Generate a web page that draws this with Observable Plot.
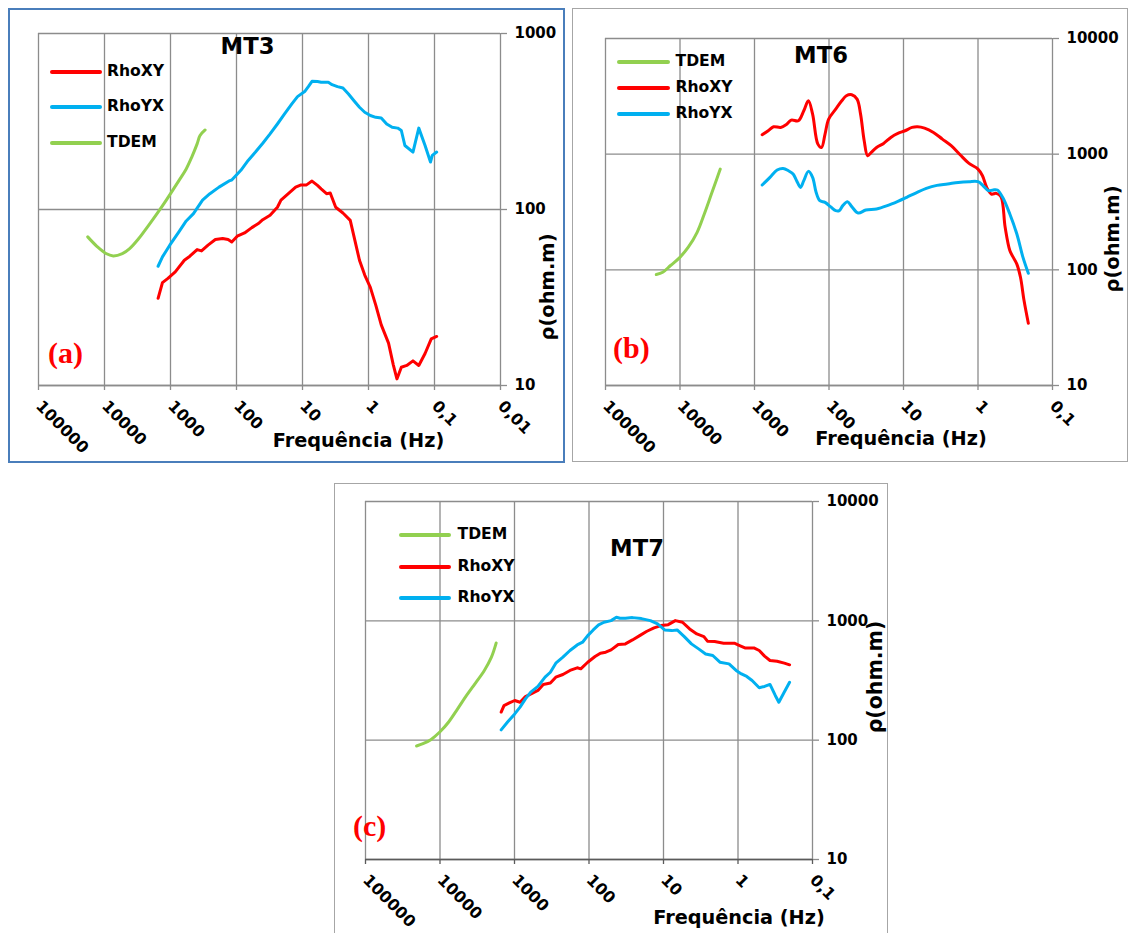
<!DOCTYPE html>
<html><head><meta charset="utf-8">
<script src="https://cdn.jsdelivr.net/npm/d3@7"></script>
<script src="https://cdn.jsdelivr.net/npm/@observablehq/plot@0.6"></script>
<style>
body{margin:0;background:#fff;}
#root{position:relative;width:1128px;height:933px;overflow:hidden;background:#fff;}
.t{position:absolute;white-space:nowrap;line-height:1;z-index:5;}
.lg{position:absolute;height:4px;border-radius:2px;z-index:5;}
.fr{position:absolute;box-sizing:border-box;z-index:4;pointer-events:none;}
</style>
</head><body><div id="root"></div>
<script>
// ---------- data (frequency in Hz, apparent resistivity in ohm.m) ----------
const xTicksMT3 = [100000, 10000, 1000, 100, 10, 1, 0.1, 0.01];
const xTicksMT67 = [100000, 10000, 1000, 100, 10, 1, 0.1];
const yTicksMT3 = [10, 100, 1000];
const yTicksMT67 = [10, 100, 1000, 10000];

const mt3TdemF = [17950, 13060, 9500, 7370, 5360, 4160, 3030, 2200, 1600, 1165, 746, 578, 478, 395, 357, 299];
const mt3TdemRho = [69.9, 61.8, 56.2, 54.5, 56.2, 60.0, 68.4, 80.3, 94.8, 112.8, 146, 170, 198, 236, 263, 283];
const mt3XyF = [1542, 1324, 1094, 847, 617, 509, 395, 339, 270, 209, 162, 134, 118, 97.5, 75.5, 58.6, 45.4, 40.0, 31.0, 24.0, 21.2, 16.4, 12.7, 10.5, 8.69, 7.18, 5.93, 5.22, 4.32, 3.80, 3.14, 2.44, 1.89, 1.37, 1.14, 0.938, 0.776, 0.641, 0.497, 0.421, 0.371, 0.318, 0.263, 0.212, 0.173, 0.139, 0.112, 0.0927];
const mt3XyRho = [31.3, 38.4, 40.6, 44.2, 51.5, 54.3, 59.2, 58.2, 62.7, 67.5, 68.4, 67.5, 65.4, 70.5, 73.6, 78.9, 83.9, 87.5, 92.7, 103, 113, 123, 134, 138, 138, 145, 137, 131, 123, 124, 103, 95.5, 86.8, 51.5, 42.4, 36.1, 28.6, 22.1, 17.4, 13.1, 10.9, 12.7, 13.0, 13.8, 13.0, 15.2, 18.4, 19.0];
const mt3YxF = [1542, 1324, 1026, 746, 578, 449, 327, 253, 184, 126, 118, 85.9, 66.6, 51.6, 40.0, 31.0, 24.0, 18.7, 14.5, 11.9, 9.27, 8.16, 7.18, 5.93, 5.22, 4.06, 3.57, 2.95, 2.44, 2.01, 1.66, 1.37, 1.14, 0.938, 0.776, 0.641, 0.530, 0.438, 0.361, 0.318, 0.281, 0.212, 0.173, 0.139, 0.115, 0.108, 0.0927];
const mt3YxRho = [47.6, 53.8, 62.7, 74.6, 86.1, 94.7, 113, 123, 134, 146, 147, 167, 190, 212, 238, 269, 306, 349, 398, 438, 468, 499, 535, 533, 528, 528, 512, 499, 490, 453, 415, 381, 357, 342, 334, 331, 306, 293, 290, 281, 231, 212, 290, 231, 186, 203, 212];

const mt6TdemF = [20800, 17060, 13400, 10190, 7740, 5890, 4720, 3790, 3210, 2880];
const mt6TdemRho = [91.0, 95.2, 109, 127, 157, 211, 304, 452, 610, 743];
const mt6XyF = [789, 655, 555, 446, 378, 321, 258, 218, 189, 166, 141, 126, 113, 101, 81.3, 67.4, 58.5, 49.5, 42.0, 37.7, 33.7, 30.3, 27.1, 23.0, 18.5, 14.8, 11.9, 9.55, 7.67, 6.50, 5.22, 3.96, 3.01, 2.29, 1.74, 1.32, 1.00, 0.871, 0.764, 0.662, 0.568, 0.492, 0.432, 0.374, 0.336, 0.301, 0.269, 0.241, 0.211];
const mt6XyRho = [1472, 1594, 1726, 1703, 1795, 1971, 1945, 2373, 2895, 2220, 1222, 1143, 1492, 2011, 2452, 2895, 3198, 3262, 2990, 2220, 1306, 969, 1036, 1143, 1239, 1396, 1511, 1594, 1703, 1726, 1680, 1542, 1350, 1183, 989, 832, 743, 651, 516, 452, 458, 429, 233, 147, 128, 112, 86.2, 54.2, 34.5];
const mt6YxF = [789, 620, 497, 413, 350, 303, 272, 241, 218, 189, 166, 149, 133, 113, 95.7, 81.3, 72.8, 65.3, 56.5, 49.5, 40.6, 32.0, 23.0, 16.5, 11.9, 9.04, 6.87, 4.94, 3.56, 2.56, 1.84, 1.32, 1.00, 0.853, 0.723, 0.627, 0.550, 0.467, 0.374, 0.301, 0.249, 0.211];
const mt6YxRho = [541, 630, 729, 753, 719, 673, 590, 516, 590, 710, 630, 468, 396, 383, 352, 325, 325, 359, 388, 352, 310, 329, 336, 359, 391, 424, 461, 506, 537, 552, 570, 578, 578, 533, 483, 490, 490, 424, 304, 204, 128, 93.3];

const mt7TdemF = [20650, 16930, 13280, 10070, 7650, 5800, 4400, 3340, 2540, 2040, 1760];
const mt7TdemRho = [89.3, 93.4, 101, 117, 142, 183, 237, 301, 384, 496, 653];
const mt7XyF = [1510, 1384, 1172, 993, 842, 713, 573, 485, 411, 330, 279, 224, 180, 144, 129, 104, 83.0, 70.3, 59.6, 50.5, 40.5, 32.5, 26.1, 20.9, 16.7, 13.4, 10.8, 8.65, 6.93, 5.56, 4.46, 3.57, 2.87, 2.57, 2.06, 1.56, 1.12, 0.951, 0.807, 0.612, 0.519, 0.440, 0.372, 0.299, 0.239, 0.203];
const mt7XyRho = [172, 195, 205, 215, 208, 232, 248, 261, 293, 301, 337, 355, 384, 404, 396, 450, 502, 536, 546, 571, 633, 641, 692, 752, 818, 873, 912, 929, 1004, 973, 855, 777, 738, 675, 670, 649, 649, 621, 593, 593, 564, 506, 465, 459, 442, 428];
const mt7YxF = [1510, 1239, 993, 842, 713, 605, 485, 389, 330, 279, 224, 180, 144, 122, 104, 87.7, 74.3, 62.9, 50.5, 42.9, 38.4, 32.5, 26.1, 19.8, 15.0, 12.0, 9.66, 7.74, 6.56, 5.26, 4.22, 3.38, 2.72, 2.18, 1.75, 1.32, 1.06, 0.900, 0.763, 0.647, 0.519, 0.440, 0.372, 0.316, 0.283, 0.239, 0.203];
const mt7YxRho = [122, 142, 166, 189, 222, 253, 282, 337, 371, 442, 496, 564, 628, 662, 752, 839, 924, 973, 1004, 1072, 1050, 1050, 1064, 1044, 1004, 942, 839, 828, 839, 738, 641, 582, 528, 512, 450, 436, 384, 359, 342, 316, 275, 282, 293, 237, 208, 253, 306];

// ---------- style ----------
const RED = "#ff0000", BLUE = "#00b0f0", GREEN = "#92d050", GRID = "#8c8c8c";
const FONT = "'DejaVu Sans', Verdana, sans-serif";
const SERIF = "'Liberation Serif', 'Times New Roman', serif";
const root = document.getElementById("root");

const rows = (F, R) => F.map((f, i) => ({f, rho: R[i]}));
const fmtX = d => String(d).replace(".", ",");

function addText(txt, x, y, o = {}) {
  const d = document.createElement("div");
  d.className = "t"; d.textContent = txt;
  Object.assign(d.style, {left: x + "px", top: y + "px", fontSize: (o.size || 15) + "px",
    color: o.color || "#000", fontFamily: o.family || FONT, fontWeight: o.weight || "bold"});
  const tx = o.anchor === "middle" ? "-50%" : o.anchor === "end" ? "-100%" : "0";
  d.style.transform = `translate(${tx},-50%)` + (o.rotate ? ` rotate(${o.rotate}deg)` : "");
  root.appendChild(d);
}
function addLegend(x1, x2, y, color) {
  const d = document.createElement("div");
  d.className = "lg";
  Object.assign(d.style, {left: x1 + "px", width: (x2 - x1) + "px", top: (y - 2) + "px", background: color});
  root.appendChild(d);
}
function addFrame(l, t, w, h, color, bw) {
  const d = document.createElement("div");
  d.className = "fr";
  Object.assign(d.style, {left: l + "px", top: t + "px", width: w + "px", height: h + "px", border: `${bw}px solid ${color}`});
  root.appendChild(d);
}

function panel(p) {
  const axisCol = p.axisColor || GRID;
  const marks = [
    Plot.gridX({ticks: p.xTicks, stroke: GRID, strokeOpacity: 1, strokeWidth: 1.3}),
    Plot.gridY({ticks: p.yTicks, stroke: GRID, strokeOpacity: 1, strokeWidth: 1.3}),
    Plot.ruleY([p.yDomain[0]], {stroke: axisCol, strokeWidth: 1.6}),
    Plot.axisX({ticks: p.xTicks, tickFormat: fmtX, tickRotate: 45, tickSize: 5, tickPadding: 13,
      stroke: axisCol, strokeWidth: 1.3, fill: "black", fontSize: 16, label: null}),
    Plot.axisY({anchor: "right", ticks: p.yTicks, tickFormat: d => String(d), tickSize: 6, tickPadding: 8,
      stroke: GRID, strokeWidth: 1.3, fill: "black", fontSize: 15, label: null})
  ];
  for (const s of p.series) {
    marks.push(Plot.line(rows(s.F, s.R), {x: "f", y: "rho", stroke: s.color, strokeWidth: 3,
      strokeLinejoin: "round", strokeLinecap: "round", curve: s.curve || "linear"}));
  }
  const svg = Plot.plot({
    width: p.width, height: p.height,
    marginLeft: p.mL, marginRight: p.mR, marginTop: p.mT, marginBottom: p.mB,
    style: {fontFamily: FONT, fontWeight: "bold", fontSize: "15px", color: "black", background: "transparent"},
    x: {type: "log", domain: p.xDomain},
    y: {type: "log", domain: p.yDomain},
    marks
  });
  Object.assign(svg.style, {position: "absolute", left: p.left + "px", top: p.top + "px", overflow: "visible"});
  root.appendChild(svg);
}

// ---------- panel (a) MT3 ----------
panel({left: 8, top: 8, width: 557, height: 455, mL: 30, mR: 65, mT: 25, mB: 78,
  xDomain: [100000, 0.01], yDomain: [10, 1000], xTicks: xTicksMT3, yTicks: yTicksMT3,
  series: [
    {F: mt3XyF, R: mt3XyRho, color: RED},
    {F: mt3YxF, R: mt3YxRho, color: BLUE},
    {F: mt3TdemF, R: mt3TdemRho, color: GREEN, curve: "catmull-rom"}
  ]});
addFrame(8, 8, 557, 455, "#4a7ebb", 2);
addText("MT3", 247.5, 46, {size: 22.7, anchor: "middle"});
addLegend(50, 102, 72, RED);   addText("RhoXY", 107, 72, {size: 15.6});
addLegend(50, 102, 107, BLUE); addText("RhoYX", 107, 107, {size: 15.6});
addLegend(50, 102, 143, GREEN); addText("TDEM", 107, 143, {size: 15.6});
addText("(a)", 48, 353, {size: 30, family: SERIF, color: RED});
addText("Frequência (Hz)", 358.5, 441, {size: 19.3, anchor: "middle"});
addText("ρ(ohm.m)", 548, 287, {size: 19.5, anchor: "middle", rotate: -90});

// ---------- panel (b) MT6 ----------
panel({left: 572, top: 8, width: 555, height: 454, mL: 33, mR: 75, mT: 30, mB: 77,
  xDomain: [100000, 0.1], yDomain: [10, 10000], xTicks: xTicksMT67, yTicks: yTicksMT67,
  series: [
    {F: mt6TdemF, R: mt6TdemRho, color: GREEN, curve: "catmull-rom"},
    {F: mt6XyF, R: mt6XyRho, color: RED, curve: "catmull-rom"},
    {F: mt6YxF, R: mt6YxRho, color: BLUE, curve: "catmull-rom"}
  ]});
addFrame(572, 8, 556, 454, "#a6a6a6", 1.5);
addText("MT6", 821, 55, {size: 22.7, anchor: "middle"});
addLegend(617, 670, 62, GREEN); addText("TDEM", 675.5, 62, {size: 15.6});
addLegend(617, 670, 88, RED);   addText("RhoXY", 675.5, 88, {size: 15.6});
addLegend(617, 670, 114, BLUE); addText("RhoYX", 675.5, 114, {size: 15.6});
addText("(b)", 613, 348, {size: 30, family: SERIF, color: RED});
addText("Frequência (Hz)", 901, 439, {size: 19.3, anchor: "middle"});
addText("ρ(ohm.m)", 1113, 239, {size: 19.5, anchor: "middle", rotate: -90});

// ---------- panel (c) MT7 ----------
panel({left: 334, top: 483, width: 554, height: 450, mL: 31, mR: 76, mT: 18, mB: 74,
  xDomain: [100000, 0.1], yDomain: [10, 10000], xTicks: xTicksMT67, yTicks: yTicksMT67,
  axisColor: "#5a5a5a",
  series: [
    {F: mt7TdemF, R: mt7TdemRho, color: GREEN, curve: "catmull-rom"},
    {F: mt7XyF, R: mt7XyRho, color: RED},
    {F: mt7YxF, R: mt7YxRho, color: BLUE}
  ]});
addFrame(334, 483, 554, 460, "#a6a6a6", 1.5);
addText("MT7", 637, 547.5, {size: 22.7, anchor: "middle"});
addLegend(399, 451, 535, GREEN); addText("TDEM", 457.5, 535, {size: 15.6});
addLegend(399, 451, 567, RED);   addText("RhoXY", 457.5, 567, {size: 15.6});
addLegend(399, 451, 598, BLUE);  addText("RhoYX", 457.5, 598, {size: 15.6});
addText("(c)", 353, 826, {size: 30, family: SERIF, color: RED});
addText("Frequência (Hz)", 739, 918, {size: 19.3, anchor: "middle"});
addText("ρ(ohm.m)", 875, 677, {size: 20.5, anchor: "middle", rotate: -90});
</script>
</body></html>
